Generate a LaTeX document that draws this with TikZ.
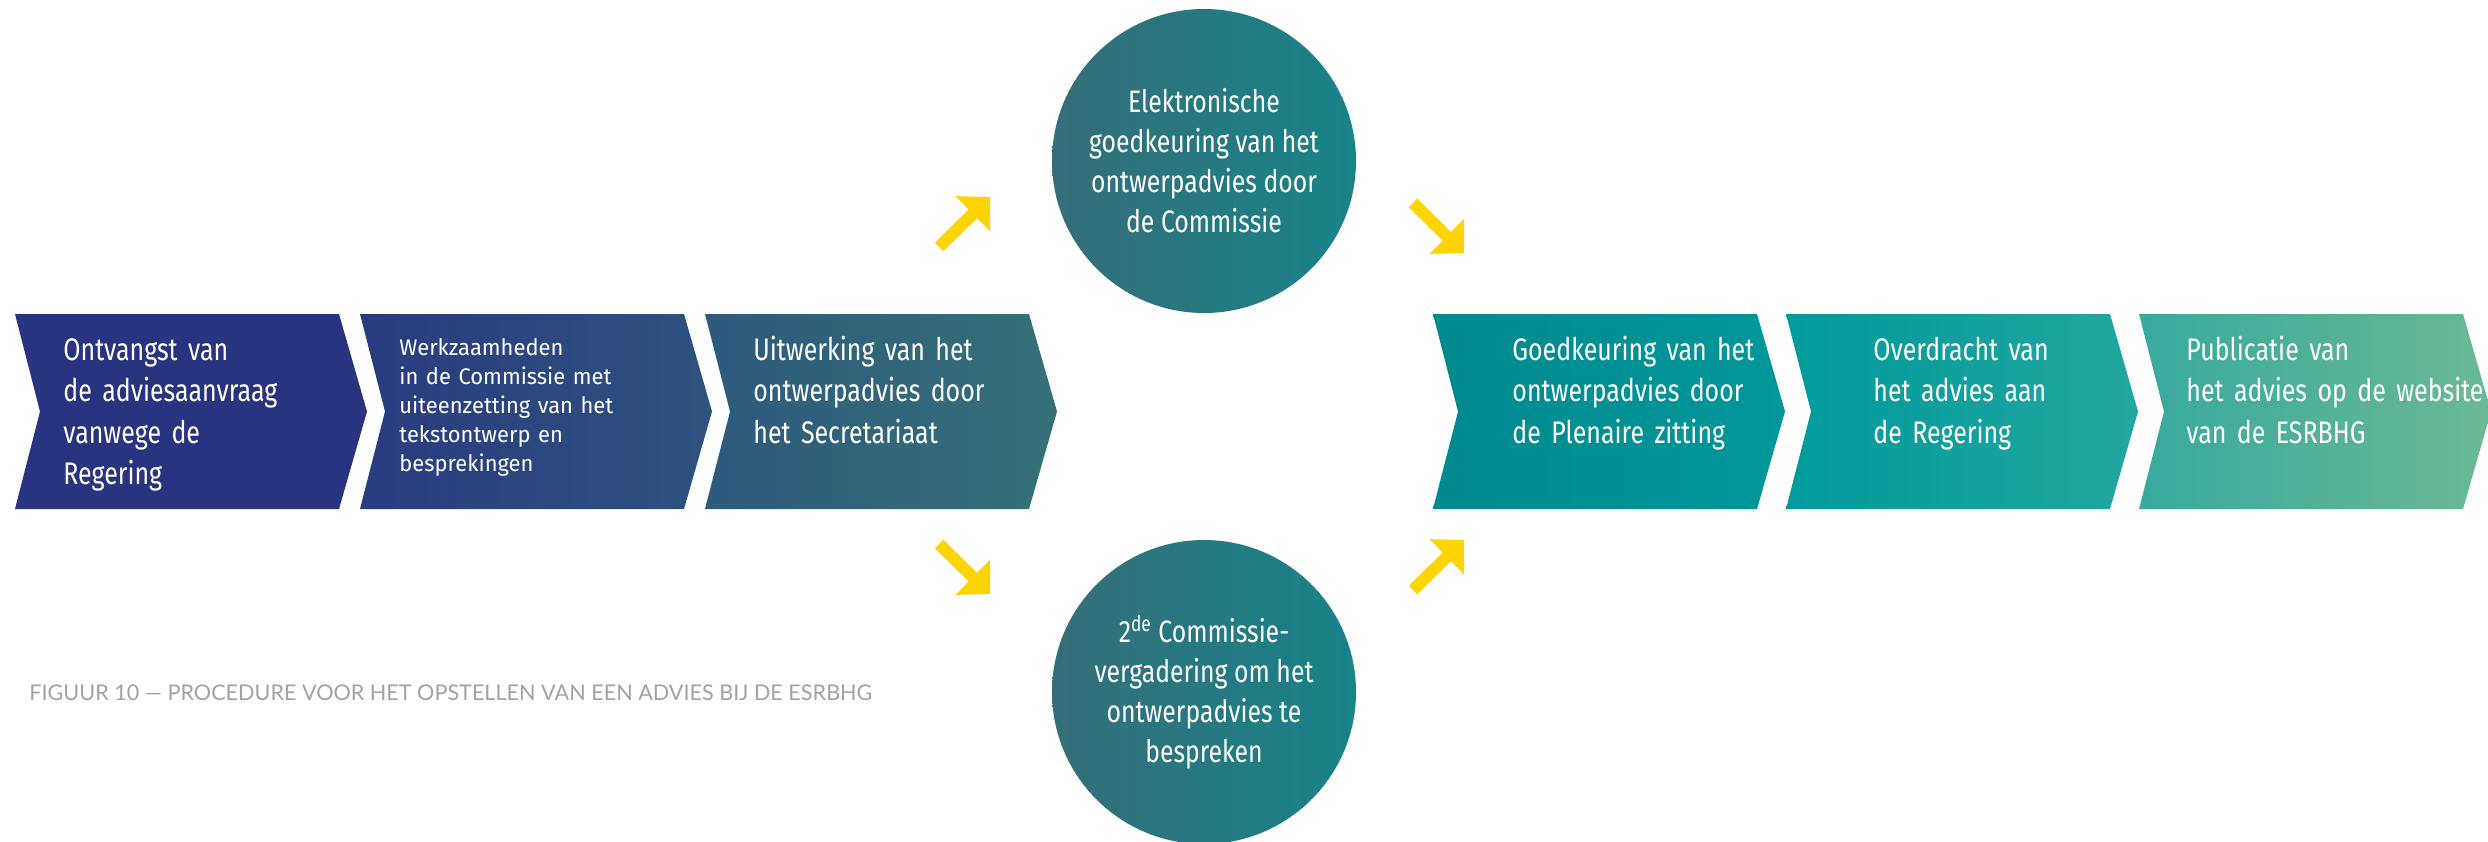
\documentclass[tikz,border=0pt]{standalone}
\usepackage{fontspec}
\usepackage{tikz}
\usetikzlibrary{arrows.meta}
\setmainfont{Fira Sans}[FakeStretch=0.8]
\newfontfamily\kleinfont{Fira Sans}[FakeStretch=0.97]
\newfontfamily\bijschriftfont{Lato}

\definecolor{geel}{HTML}{FFD400}
\definecolor{grijs}{HTML}{A2A2A2}
\definecolor{blauwA}{HTML}{28347F}
\definecolor{blauwB}{HTML}{2A3B80}
\definecolor{blauwC}{HTML}{2D537E}
\definecolor{blauwD}{HTML}{2E5A7D}
\definecolor{blauwE}{HTML}{357077}
\definecolor{cirkelA}{HTML}{356E79}
\definecolor{cirkelB}{HTML}{188389}
\definecolor{groenA}{HTML}{00898E}
\definecolor{groenB}{HTML}{00979A}
\definecolor{groenC}{HTML}{019A9C}
\definecolor{groenD}{HTML}{22A79F}
\definecolor{groenE}{HTML}{37A99E}
\definecolor{groenF}{HTML}{6BB994}

% chevron: left x, left colour, right colour
\newcommand\stap[3]{%
  \shade[left color=#2, right color=#3] (#1,314) -- ++(324,0) -- ++(28,97.5)
    -- ++(-28,97.5) -- ++(-324,0) -- ++(25,-97.5) -- cycle;}

\begin{document}
\begin{tikzpicture}[x=0.5pt, y=-0.5pt,
  tekst/.style={anchor=base west, align=left, text width=200pt, inner sep=0pt,
    text=white, font=\fontsize{15.6}{20.8}\selectfont},
  klein/.style={tekst, font=\kleinfont\fontsize{11.3}{14.5}\selectfont},
  cirkel/.style={circle, minimum size=152pt, inner sep=0pt, align=center,
    text=white, left color=cirkelA, right color=cirkelB,
    font=\fontsize{15.5}{20}\selectfont},
  pijl/.style={draw=geel, line width=6pt, -{Triangle[length=12pt, width=24pt]}}]
  \fill[white] (0,0) rectangle (2488,841);
  \useasboundingbox (0,0) rectangle (2488,841);

  % Chevrons
  \stap{15}{blauwA}{blauwA}
  \stap{360}{blauwB}{blauwC}
  \stap{705}{blauwD}{blauwE}
  \stap{1433}{groenA}{groenB}
  \stap{1786}{groenC}{groenD}
  \stap{2139}{groenE}{groenF}

  % Nodes
  \node[tekst] (ontvangst) at (63,360) {Ontvangst van\\de adviesaanvraag\\vanwege de\\Regering};
  \node[klein] (werk) at (399,355) {Werkzaamheden\\in de Commissie met\\uiteenzetting van het\\tekstontwerp en\\besprekingen};
  \node[tekst] (uitwerking) at (753,360) {Uitwerking van het\\ontwerpadvies door\\het Secretariaat};
  \node[cirkel] (elektronisch) at (1204,161) {Elektronische\\goedkeuring van het\\ontwerpadvies door\\de Commissie};
  \node[cirkel] (vergadering) at (1204,692) {2\textsuperscript{de} Commissie-\\vergadering om het\\ontwerpadvies te\\bespreken};
  \node[tekst] (goedkeuring) at (1512,360) {Goedkeuring van het\\ontwerpadvies door\\de Plenaire zitting};
  \node[tekst] (overdracht) at (1873,360) {Overdracht van\\het advies aan\\de Regering};
  \node[tekst] (publicatie) at (2186,360) {Publicatie van\\het advies op de website\\van de ESRBHG};
  \node[anchor=west, inner sep=0pt, text=grijs, font=\bijschriftfont\fontsize{10.8}{12}\selectfont] (titel)
    at (29,693) {FIGUUR 10 — PROCEDURE VOOR HET OPSTELLEN VAN EEN ADVIES BIJ DE ESRBHG};

  % Arrows
  \coordinate (p1a) at (939,247);  \coordinate (p1b) at (990,197);
  \coordinate (p2a) at (1413,203); \coordinate (p2b) at (1464,253);
  \coordinate (p3a) at (939,544);  \coordinate (p3b) at (990,594);
  \coordinate (p4a) at (1413,590); \coordinate (p4b) at (1464,540);
  \draw[pijl] (p1a) -- (p1b);
  \draw[pijl] (p2a) -- (p2b);
  \draw[pijl] (p3a) -- (p3b);
  \draw[pijl] (p4a) -- (p4b);
\end{tikzpicture}
\end{document}
